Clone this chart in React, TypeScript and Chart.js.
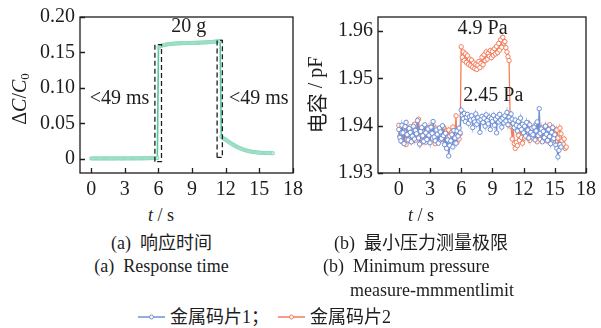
import React, { useEffect, useRef } from "react";
import { Chart, registerables } from "chart.js";
Chart.register(...registerables);

// ---------- data ----------
const SAMPLE_STEP = 0.1; // s, sampling interval of all series
const X_TICKS = [0, 3, 6, 9, 12, 15, 18];
const LEFT_Y_TICKS = [0, 0.05, 0.1, 0.15, 0.2];
const RIGHT_Y_TICKS = [1.93, 1.94, 1.95, 1.96];

// (a) response time, ΔC/C0, t = 0 … 16.2 s
const responseTime = [
  0.0006, 0.0004, 0.0005, 0.0007, 0.0005, 0.0004, 0.0006, 0.0005, 0.0006, 0.0004,
  0.0005, 0.0006, 0.0004, 0.0005, 0.0007, 0.0005, 0.0006, 0.0004, 0.0005, 0.0006,
  0.0005, 0.0004, 0.0006, 0.0005, 0.0007, 0.0006, 0.0005, 0.0004, 0.0006, 0.0005,
  0.0006, 0.0005, 0.0007, 0.0006, 0.0005, 0.0006, 0.0007, 0.0006, 0.0007, 0.0005,
  0.0006, 0.0007, 0.0006, 0.0007, 0.0006, 0.0006, 0.0008, 0.0007, 0.0007, 0.0008,
  0.0008, 0.0009, 0.0008, 0.0009, 0.0009, 0.0010, 0.0009, 0.0010, 0.0010, 0.0011,
  0.1570, 0.1583, 0.1590, 0.1596, 0.1601, 0.1605, 0.1609, 0.1612, 0.1615, 0.1617,
  0.1619, 0.1621, 0.1622, 0.1624, 0.1625, 0.1626, 0.1627, 0.1628, 0.1628, 0.1629,
  0.1630, 0.1630, 0.1631, 0.1632, 0.1632, 0.1633, 0.1633, 0.1634, 0.1634, 0.1635,
  0.1635, 0.1636, 0.1636, 0.1637, 0.1637, 0.1638, 0.1638, 0.1639, 0.1639, 0.1640,
  0.1641, 0.1641, 0.1642, 0.1643, 0.1644, 0.1645, 0.1646, 0.1647, 0.1648, 0.1650,
  0.1652, 0.1654, 0.1656, 0.1658, 0.1660, 0.1662,
  0.0310, 0.0298, 0.0288, 0.0279,
  0.0270, 0.0258, 0.0246, 0.0235, 0.0224, 0.0214, 0.0204, 0.0195, 0.0186, 0.0177,
  0.0169, 0.0161, 0.0154, 0.0147, 0.0141, 0.0135, 0.0129, 0.0124, 0.0119, 0.0115,
  0.0111, 0.0107, 0.0104, 0.0101, 0.0098, 0.0096, 0.0094, 0.0092, 0.0090, 0.0089,
  0.0087, 0.0086, 0.0085, 0.0084, 0.0083, 0.0082, 0.0082, 0.0081, 0.0081, 0.0080,
  0.0080, 0.0079, 0.0079,
];

// dashed boxes marking the transitions: [tStart, tEnd, low, high]
const responseBoxes = [
  [5.68, 6.27, -0.004, 0.161],
  [11.23, 11.7, 0.002, 0.167],
];

// (b) 金属码片1, capacitance / pF, t = 0 … 15.6 s
const chip1 = [
  1.9392, 1.9375, 1.9368, 1.9401, 1.9385, 1.9362, 1.9398, 1.9407, 1.9381, 1.937,
  1.9394, 1.9386, 1.9366, 1.9378, 1.9399, 1.9372, 1.939, 1.9383, 1.9411, 1.9374,
  1.9361, 1.9388, 1.9396, 1.9379, 1.9367, 1.9402, 1.9385, 1.9371, 1.9393, 1.938,
  1.9364, 1.9397, 1.9384, 1.9409, 1.9376, 1.9368, 1.9391, 1.9382, 1.9363, 1.9395,
  1.9387, 1.9373, 1.94, 1.9379, 1.936, 1.9384, 1.9352, 1.937, 1.9336, 1.9358,
  1.9368, 1.9381, 1.9355, 1.939, 1.9374, 1.9363, 1.9389, 1.9378, 1.9395, 1.9385,
  1.9433, 1.9422, 1.9415, 1.9426, 1.9409, 1.9418, 1.9424, 1.9405, 1.9419, 1.9412,
  1.9421, 1.9396, 1.9414, 1.9408, 1.9425, 1.9403, 1.9417, 1.941, 1.9386, 1.9413,
  1.942, 1.9407, 1.9416, 1.9399, 1.9423, 1.9411, 1.9404, 1.9418, 1.9392, 1.9415,
  1.9409, 1.9422, 1.9401, 1.9414, 1.9385, 1.9419, 1.9408, 1.9424, 1.9412, 1.9397,
  1.9416, 1.9406, 1.9421, 1.941, 1.9428, 1.9402, 1.9418, 1.9411, 1.9425, 1.9414,
  1.9405, 1.9396, 1.9412, 1.9401, 1.9389, 1.9409, 1.9398, 1.9416, 1.9392, 1.9403,
  1.9385, 1.9399, 1.9378, 1.9407, 1.9391, 1.9374, 1.9402, 1.9386, 1.9395, 1.9381,
  1.9397, 1.937, 1.9389, 1.9408, 1.9379, 1.9436, 1.9384, 1.9393, 1.9366, 1.9388,
  1.9375, 1.9399, 1.9382, 1.9369, 1.9392, 1.9377, 1.9362, 1.9386, 1.9396, 1.9373,
  1.9381, 1.9359, 1.9352, 1.9334, 1.9348, 1.936, 1.9355,
];

// (b) 金属码片2, capacitance / pF, t = 0 … 16.1 s
const chip2 = [
  1.9401, 1.9378, 1.9385, 1.9366, 1.9392, 1.9371, 1.9389, 1.936, 1.9395, 1.9383,
  1.9372, 1.9398, 1.9366, 1.9387, 1.9376, 1.9403, 1.9369, 1.9391, 1.938, 1.9414,
  1.9377, 1.9363, 1.9394, 1.9382, 1.9371, 1.9399, 1.9365, 1.9388, 1.9379, 1.9396,
  1.9368, 1.939, 1.9374, 1.9401, 1.9383, 1.9362, 1.9395, 1.9378, 1.9386, 1.9369,
  1.9392, 1.938, 1.9371, 1.9397, 1.9384, 1.9366, 1.9389, 1.9375, 1.9391, 1.9378,
  1.9369, 1.9386, 1.9397, 1.9381, 1.9373, 1.9421, 1.9365, 1.9388, 1.9372, 1.9383,
  1.9567, 1.9545, 1.9556, 1.9538, 1.9552, 1.9534, 1.9548, 1.953, 1.9541, 1.9527,
  1.9539, 1.9524, 1.9533, 1.9521, 1.953, 1.9519, 1.9528, 1.9536, 1.9523, 1.9532,
  1.9545, 1.9529, 1.955, 1.9538, 1.9556, 1.9541, 1.9553, 1.9547, 1.9559, 1.9544,
  1.9557, 1.9549, 1.9563, 1.9552, 1.9568, 1.9555, 1.9574, 1.956, 1.9582, 1.9566,
  1.9587, 1.9575, 1.9578, 1.9565, 1.9556, 1.9546, 1.9538, 1.9422, 1.9398, 1.9372,
  1.9398, 1.9362, 1.9352, 1.9365, 1.9358, 1.938, 1.9369, 1.9392, 1.9375, 1.9363,
  1.9388, 1.9374, 1.9395, 1.9379, 1.9406, 1.9383, 1.9369, 1.9397, 1.9381, 1.9375,
  1.9392, 1.9378, 1.9403, 1.9366, 1.9389, 1.9384, 1.9371, 1.9396, 1.938, 1.9387,
  1.9373, 1.9399, 1.9368, 1.939, 1.9377, 1.9402, 1.9364, 1.9385, 1.937, 1.9394,
  1.9379, 1.9366, 1.9391, 1.9374, 1.936, 1.9395, 1.9383, 1.9368, 1.9361, 1.9372,
  1.9352, 1.9355,
];

// ---------- styles ----------
const SERIF = '"Liberation Serif", "Times New Roman", serif';
const CJK = '"Noto Sans CJK SC", sans-serif';
const MIXED = '"Liberation Serif", "Noto Sans CJK SC", serif';
const INK = "#1d1d1d";
const GREEN = "#55c9a0";
const GREEN_PT_FILL = "#cdeee0";
const GREEN_PT_EDGE = "#86d8b9";
const BLUE = "#6f90d8";
const ORANGE = "#f47d5c";

const toXY = (arr: number[]) => arr.map((v, i) => ({ x: +(i * SAMPLE_STEP).toFixed(2), y: v }));

type Piece = { t: string; font: string; dy?: number };

const framePlugin = {
  id: "frame",
  afterDatasetsDraw(chart: any, _args: any, opts: any) {
    const { ctx, chartArea: a, scales } = chart;
    const xs = scales.x;
    const ys = scales.y;
    ctx.save();
    ctx.strokeStyle = INK;
    ctx.lineWidth = 1.3;
    ctx.strokeRect(a.left, a.top, a.right - a.left, a.bottom - a.top);
    const len = 5;
    ctx.beginPath();
    xs.ticks.forEach((t: any) => {
      const px = Math.round(xs.getPixelForValue(t.value)) + 0.5;
      ctx.moveTo(px, a.bottom);
      ctx.lineTo(px, a.bottom - len);
    });
    ys.ticks.forEach((t: any) => {
      const py = Math.round(ys.getPixelForValue(t.value)) + 0.5;
      ctx.moveTo(a.left, py);
      ctx.lineTo(a.left + len, py);
    });
    ctx.stroke();

    ctx.fillStyle = INK;
    ctx.textBaseline = "alphabetic";
    (opts.labels || []).forEach((l: any) => {
      ctx.font = `20px ${SERIF}`;
      ctx.textAlign = "center";
      ctx.fillText(l.text, xs.getPixelForValue(l.x), ys.getPixelForValue(l.y));
    });

    // rotated y-axis title made of styled pieces
    const title = opts.yTitle;
    if (title) {
      const pieces: Piece[] = title.pieces;
      let total = 0;
      const widths = pieces.map((p) => {
        ctx.font = p.font;
        const w = ctx.measureText(p.t).width;
        total += w;
        return w;
      });
      ctx.translate(title.x, title.cy);
      ctx.rotate(-Math.PI / 2);
      ctx.textAlign = "left";
      ctx.textBaseline = "middle";
      let cx = -total / 2;
      pieces.forEach((p, i) => {
        ctx.font = p.font;
        ctx.fillText(p.t, cx, p.dy || 0);
        cx += widths[i];
      });
    }
    ctx.restore();
  },
};

function baseScales(xMin: number, xMax: number, yMin: number, yMax: number, yTicks: number[], yFmt: (v: number) => string, yWidth: number) {
  const font = { family: SERIF, size: 20 };
  return {
    x: {
      type: "linear",
      min: xMin,
      max: xMax,
      afterBuildTicks: (s: any) => {
        s.ticks = X_TICKS.map((v) => ({ value: v }));
      },
      afterFit: (s: any) => {
        s.height = 27;
      },
      grid: { display: false, drawTicks: false },
      border: { display: false },
      ticks: { font, color: INK, padding: 5, maxRotation: 0, autoSkip: false, callback: (v: any) => String(v) },
    },
    y: {
      type: "linear",
      min: yMin,
      max: yMax,
      afterBuildTicks: (s: any) => {
        s.ticks = yTicks.map((v) => ({ value: v }));
      },
      afterFit: (s: any) => {
        s.width = yWidth;
      },
      grid: { display: false, drawTicks: false },
      border: { display: false },
      ticks: { font, color: INK, padding: 5, autoSkip: false, callback: (v: any) => yFmt(Number(v)) },
    },
  };
}

function LeftChart() {
  const ref = useRef<HTMLCanvasElement>(null);
  useEffect(() => {
    const boxSets = responseBoxes.map(([t0, t1, lo, hi]) => ({
      data: [
        { x: t0, y: lo },
        { x: t0, y: hi },
        { x: t1, y: hi },
        { x: t1, y: lo },
        { x: t0, y: lo },
      ],
      borderColor: INK,
      borderWidth: 1.3,
      borderDash: [5, 3],
      pointRadius: 0,
      fill: false,
      tension: 0,
    }));
    const chart = new Chart(ref.current!, {
      type: "line",
      data: {
        datasets: [
          ...boxSets,
          {
            data: toXY(responseTime),
            borderColor: GREEN,
            borderWidth: 1.6,
            pointStyle: "rect",
            pointRadius: 2,
            pointBackgroundColor: GREEN_PT_FILL,
            pointBorderColor: GREEN_PT_EDGE,
            pointBorderWidth: 0.8,
            tension: 0,
            fill: false,
          },
        ],
      } as any,
      options: {
        animation: false,
        responsive: false,
        events: [],
        layout: { padding: { top: 15, right: 17, left: 0, bottom: 0 }, autoPadding: false },
        plugins: {
          legend: { display: false },
          tooltip: { enabled: false },
          frame: {
            labels: [
              { text: "20 g", x: 8.7, y: 0.1785 },
              { text: "<49 ms", x: 2.52, y: 0.0776 },
              { text: "<49 ms", x: 14.94, y: 0.0776 },
            ],
            yTitle: {
              x: 21,
              cy: 99,
              pieces: [
                { t: "Δ", font: `20px ${SERIF}` },
                { t: "C", font: `italic 20px ${SERIF}` },
                { t: "/", font: `20px ${SERIF}` },
                { t: "C", font: `italic 20px ${SERIF}` },
                { t: "0", font: `13px ${SERIF}`, dy: 5 },
              ],
            },
          },
        } as any,
        scales: baseScales(-1, 18, -0.02, 0.2, LEFT_Y_TICKS, (v) => (v === 0 ? "0" : v.toFixed(2)), 80) as any,
      },
      plugins: [framePlugin],
    });
    return () => chart.destroy();
  }, []);
  return <canvas ref={ref} width={310} height={200} style={{ position: "absolute", left: 0, top: 0 }} />;
}

function RightChart() {
  const ref = useRef<HTMLCanvasElement>(null);
  useEffect(() => {
    const series = (data: number[], color: string, label: string) => ({
      label,
      data: toXY(data),
      borderColor: color,
      borderWidth: 1.3,
      pointStyle: "circle",
      pointRadius: 2.2,
      pointBackgroundColor: "#ffffff",
      pointBorderColor: color,
      pointBorderWidth: 1,
      tension: 0,
      fill: false,
    });
    const chart = new Chart(ref.current!, {
      type: "line",
      data: {
        datasets: [series(chip1, BLUE, "金属码片1"), series(chip2, ORANGE, "金属码片2")],
      } as any,
      options: {
        animation: false,
        responsive: false,
        events: [],
        layout: { padding: { top: 15, right: 8, left: 0, bottom: 0 }, autoPadding: false },
        plugins: {
          legend: { display: false },
          tooltip: { enabled: false },
          frame: {
            labels: [
              { text: "4.9 Pa", x: 8.06, y: 1.95938 },
              { text: "2.45 Pa", x: 9.09, y: 1.9452 },
            ],
            yTitle: {
              x: 17,
              cy: 95,
              pieces: [
                { t: "电容", font: `20px ${CJK}` },
                { t: " / pF", font: `20px ${SERIF}` },
              ],
            },
          },
        } as any,
        scales: baseScales(-2, 18, 1.93, 1.963, RIGHT_Y_TICKS, (v) => v.toFixed(2), 78) as any,
      },
      plugins: [framePlugin],
    });
    return () => chart.destroy();
  }, []);
  return <canvas ref={ref} width={301} height={200} style={{ position: "absolute", left: 300, top: 0 }} />;
}

function Txt(props: { x: number; y: number; center?: boolean; children: React.ReactNode }) {
  return (
    <div
      style={{
        position: "absolute",
        left: props.x,
        top: props.y,
        transform: props.center ? "translateX(-50%)" : undefined,
        fontFamily: MIXED,
        fontSize: 18,
        lineHeight: "18px",
        whiteSpace: "nowrap",
        color: INK,
      }}
    >
      {props.children}
    </div>
  );
}

function LegendMark({ color }: { color: string }) {
  return (
    <svg width={27} height={10} style={{ display: "block" }}>
      <line x1={0} y1={5} x2={27} y2={5} stroke={color} strokeWidth={1.5} />
      <circle cx={13.5} cy={5} r={2} fill="#fff" stroke={color} strokeWidth={1} />
    </svg>
  );
}

export default function App() {
  return (
    <div style={{ position: "fixed", left: 0, top: 0, width: 601, height: 328, background: "#fff", overflow: "hidden" }}>
      <LeftChart />
      <RightChart />
      <Txt x={161} y={206} center>
        <i>t</i> / s
      </Txt>
      <Txt x={421} y={206} center>
        <i>t</i> / s
      </Txt>
      <Txt x={161.5} y={234} center>
        (a)&nbsp;&nbsp;响应时间
      </Txt>
      <Txt x={161.5} y={257} center>
        (a)&nbsp;&nbsp;Response time
      </Txt>
      <Txt x={421} y={234} center>
        (b)&nbsp;&nbsp;最小压力测量极限
      </Txt>
      <Txt x={323} y={257}>
        (b)&nbsp;&nbsp;Minimum pressure
      </Txt>
      <Txt x={350} y={281}>
        measure-mmmentlimit
      </Txt>
      <div style={{ position: "absolute", left: 138, top: 312 }}>
        <LegendMark color={BLUE} />
      </div>
      <Txt x={170} y={308}>
        金属码片1；
      </Txt>
      <div style={{ position: "absolute", left: 278, top: 312 }}>
        <LegendMark color={ORANGE} />
      </div>
      <Txt x={310} y={308}>
        金属码片2
      </Txt>
    </div>
  );
}
